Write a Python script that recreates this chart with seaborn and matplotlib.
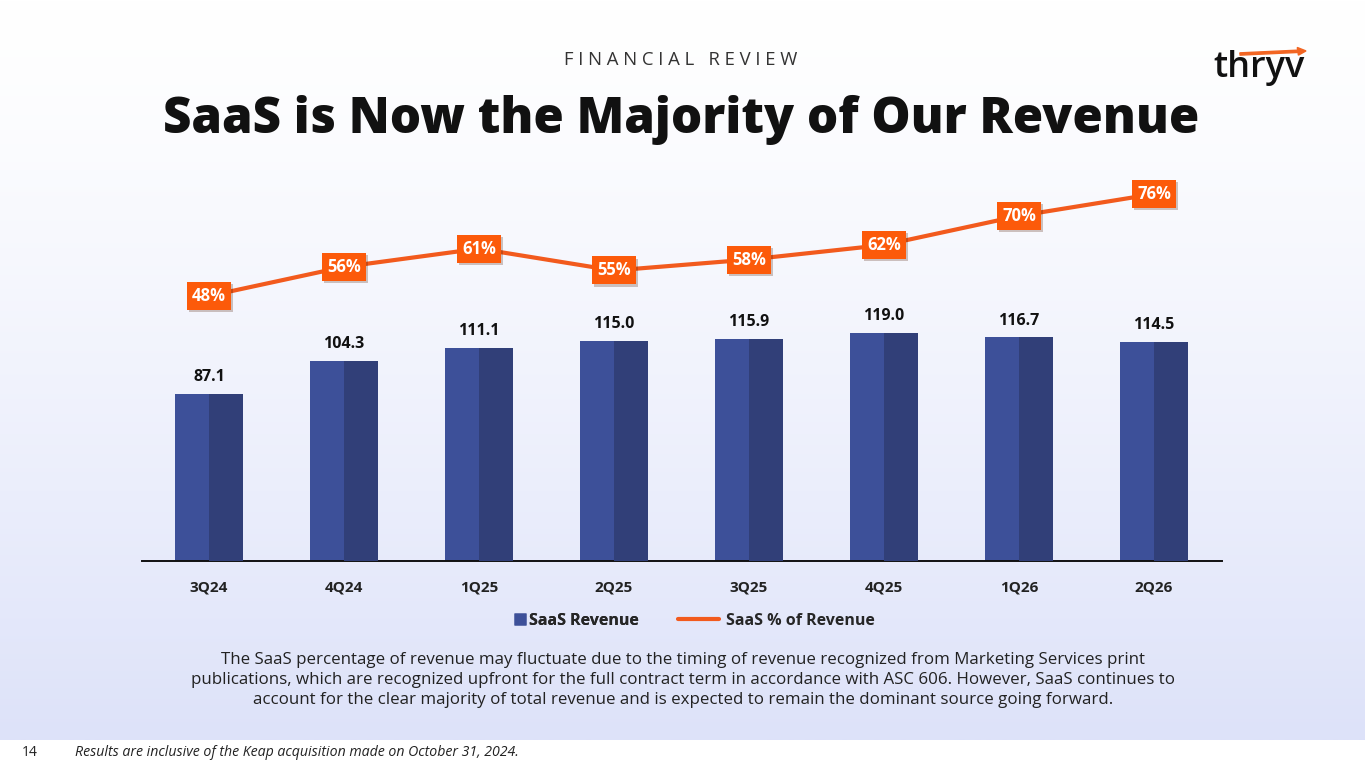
import numpy as np
import matplotlib
matplotlib.use("Agg")
import matplotlib.pyplot as plt
import matplotlib.patheffects as pe
from matplotlib.lines import Line2D
import seaborn as sns

quarters = ["3Q24", "4Q24", "1Q25", "2Q25", "3Q25", "4Q25", "1Q26", "2Q26"]
saas_revenue = [87.1, 104.3, 111.1, 115.0, 115.9, 119.0, 116.7, 114.5]
saas_pct = [48, 56, 61, 55, 58, 62, 70, 76]

bar_light = "#3d5099"
bar_dark = "#313f78"
orange_line = "#f25a1d"
orange_box = "#fc5a0a"

sns.set_style("white")
plt.rcParams["font.family"] = ["Open Sans", "DejaVu Sans"]

fig = plt.figure(figsize=(13.65, 7.68), dpi=100)
fig.patch.set_facecolor("white")

# background gradient (white -> light lavender), white footer band below
bg = fig.add_axes([0, 28 / 768, 1, 740 / 768], zorder=-10)
grad = np.linspace(0, 1, 256).reshape(-1, 1)
top = np.array([1.0, 1.0, 1.0])
bot = np.array([0xdd, 0xe2, 0xf9]) / 255
img = top + (bot - top) * grad[:, :, None] ** 1.3
bg.imshow(img, aspect="auto", extent=[0, 1, 0, 1])
bg.axis("off")

ax = fig.add_axes([141.5 / 1365, 1 - 561 / 768, 1080 / 1365, 391 / 768])
ax.patch.set_alpha(0)
x = np.arange(len(quarters))
sns.barplot(x=quarters, y=saas_revenue, color=bar_light, width=0.5,
            saturation=1, linewidth=0, ax=ax)
ax.bar(x + 0.125, saas_revenue, width=0.25, color=bar_dark, linewidth=0,
       zorder=3)
for i, v in enumerate(saas_revenue):
    ax.text(i, v + 4.5, f"{v:.1f}", ha="center", va="bottom",
            fontsize=11.5, fontweight="bold", color="#111111")
ax.set_xlim(-0.5, len(quarters) - 0.5)
ax.set_ylim(0, 204)
ax.set_yticks([])
ax.set_ylabel("")
ax.set_xlabel("")
for s in ["top", "right", "left"]:
    ax.spines[s].set_visible(False)
ax.spines["bottom"].set_color("#111111")
ax.spines["bottom"].set_linewidth(1.4)
ax.tick_params(axis="x", length=0, pad=14)
for lab in ax.get_xticklabels():
    lab.set_fontweight("bold")
    lab.set_fontsize(11)
    lab.set_color("#222222")

ax2 = ax.twinx()
sns.lineplot(x=x, y=saas_pct, color=orange_line, linewidth=3, ax=ax2)
ax2.set_ylim(-24.8, 82.6)
ax2.set_yticks([])
ax2.set_ylabel("")
for s in ax2.spines.values():
    s.set_visible(False)
for i, p in enumerate(saas_pct):
    t = ax2.text(i, p, f"{p}%", ha="center", va="center", fontsize=12,
                 fontweight="bold", color="white", zorder=5,
                 bbox=dict(boxstyle="square,pad=0.3", fc=orange_box, ec="none"))
    t.get_bbox_patch().set_path_effects(
        [pe.withSimplePatchShadow(offset=(1.5, -1.5), alpha=0.25), pe.Normal()])

leg_font = {"weight": "bold", "size": 11.5}
h1 = [Line2D([0], [0], marker="s", color="none", markerfacecolor=bar_light,
             markeredgecolor="none", markersize=8, label="SaaS Revenue")]
h2 = [Line2D([0], [0], color=orange_line, lw=3, label="SaaS % of Revenue")]
leg1 = fig.legend(handles=h1, loc="center", frameon=False,
                  bbox_to_anchor=(577 / 1365, 1 - 621 / 768),
                  handlelength=0.6, handletextpad=0.3, prop=leg_font)
fig.add_artist(leg1)
fig.legend(handles=h2, loc="center", frameon=False,
           bbox_to_anchor=(776 / 1365, 1 - 621 / 768),
           handlelength=2.6, handletextpad=0.4, prop=leg_font)

fig.text(681 / 1365, 1 - 60 / 768, "F I N A N C I A L   R E V I E W",
         ha="center", va="center", fontsize=13.3, color="#333333")
fig.text(681 / 1365, 1 - 120 / 768, "SaaS is Now the Majority of Our Revenue",
         ha="center", va="center", fontsize=35.5, fontweight="heavy",
         color="#111111")

# logo
fig.text(1259 / 1365, 1 - 68 / 768, "thryv", ha="center", va="center",
         fontsize=26, fontweight="semibold", color="#111111")
fig.add_artist(matplotlib.patches.FancyArrow(
    1240 / 1365, 1 - 54 / 768, 66 / 1365, 0.004, width=0.003,
    head_width=0.01, head_length=0.006, color="#f26522",
    transform=fig.transFigure, length_includes_head=True))

para = ("The SaaS percentage of revenue may fluctuate due to the timing of revenue recognized from Marketing Services print\n"
        "publications, which are recognized upfront for the full contract term in accordance with ASC 606. However, SaaS continues to\n"
        "account for the clear majority of total revenue and is expected to remain the dominant source going forward.")
fig.text(683 / 1365, 1 - 680 / 768, para, ha="center", va="center",
         fontsize=12.2, color="#222222", linespacing=1.33)

fig.text(22 / 1365, 1 - 753 / 768, "14", ha="left", va="center",
         fontsize=10, color="#222222")
fig.text(75 / 1365, 1 - 753 / 768,
         "Results are inclusive of the Keap acquisition made on October 31, 2024.",
         ha="left", va="center", fontsize=10.2, style="italic", color="#222222")

fig.savefig("out.png", dpi=100)
